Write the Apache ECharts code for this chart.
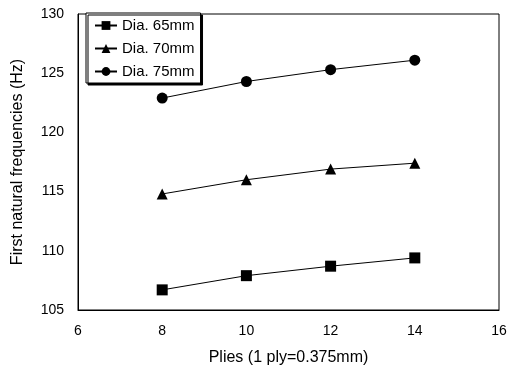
<!DOCTYPE html>
<html>
<head>
<meta charset="utf-8">
<script src="https://cdn.jsdelivr.net/npm/echarts@6/dist/echarts.min.js"></script>
<style>
  html, body { margin: 0; padding: 0; background: #fff; }
  #chart { width: 512px; height: 378px; }
</style>
</head>
<body>
<div id="chart"></div>
<script>
const plies = [8, 10, 12, 14]
const dia65 = [106.7, 107.9, 108.7, 109.4]
const dia70 = [114.8, 116.0, 116.9, 117.4]
const dia75 = [122.9, 124.3, 125.3, 126.1]
const seriesNames = ['Dia. 65mm', 'Dia. 70mm', 'Dia. 75mm']
const symbols = ['rect', 'triangle', 'circle']

const pairs = arr => plies.map((p, i) => [p, arr[i]])

const myChart = echarts.init(document.getElementById('chart'))
const font = 'Liberation Sans, Arial, sans-serif'

const option = {
  animation: false,
  textStyle: { fontFamily: font },
  grid: {
    left: 78, right: 13, top: 14, bottom: 68,
    show: true, borderColor: '#000', borderWidth: 1
  },
  legend: {
    left: 86, top: 13,
    orient: 'vertical',
    itemGap: 8,
    itemWidth: 22, itemHeight: 11,
    padding: [5, 6, 4, 8],
    borderColor: '#000', borderWidth: 1,
    backgroundColor: '#fff',
    shadowColor: '#000', shadowOffsetX: 2, shadowOffsetY: 2,
    textStyle: { color: '#000', fontSize: 15, fontFamily: font },
    data: seriesNames
  },
  xAxis: {
    type: 'value',
    min: 6, max: 16, interval: 2,
    name: 'Plies (1 ply=0.375mm)',
    nameLocation: 'middle', nameGap: 40,
    nameTextStyle: { color: '#000', fontSize: 16, fontFamily: font },
    axisLine: { lineStyle: { color: '#000' } },
    axisTick: { show: false },
    splitLine: { show: false },
    axisLabel: { color: '#000', fontSize: 14, margin: 14 }
  },
  yAxis: {
    type: 'value',
    min: 105, max: 130, interval: 5,
    name: 'First natural frequencies (Hz)',
    nameLocation: 'middle', nameGap: 52,
    nameTextStyle: { color: '#000', fontSize: 16, fontFamily: font },
    axisLine: { lineStyle: { color: '#000' } },
    axisTick: { show: false },
    splitLine: { show: false },
    axisLabel: { color: '#000', fontSize: 14, margin: 14 }
  },
  series: [dia65, dia70, dia75].map((arr, i) => ({
    name: seriesNames[i],
    type: 'line',
    data: pairs(arr),
    symbol: symbols[i],
    symbolSize: 11,
    lineStyle: { color: '#000', width: 1 },
    itemStyle: { color: '#000' }
  }))
}
myChart.setOption(option)
</script>
</body>
</html>
